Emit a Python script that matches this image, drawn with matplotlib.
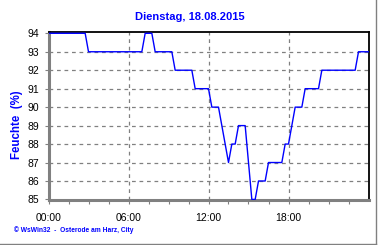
import numpy as np
import matplotlib.pyplot as plt

#----データ (15分間隔, 00:00 - 24:00)----#
humidity = [94]*12 + [93]*17 + [94]*3 + [93]*6 + [92]*6 + [91]*5 + [90]*3 \
    + [89, 88, 87] + [88]*2 + [89]*3 + [87] + [85]*2 + [86]*3 + [87]*5 \
    + [88]*2 + [89] + [90]*3 + [91]*5 + [92]*11 + [93]*4
hours = np.arange(len(humidity)) * 0.25

title = 'Dienstag, 18.08.2015'
ylabel = 'Feuchte  (%)'
footer = '\u00a9 WsWin32  -  Osterode am Harz, City'
xtick_pos = [0, 6, 12, 18]
xtick_labels = ['00:00', '06:00', '12:00', '18:00']
ytick_pos = list(range(85, 95))

blue = '#0000ff'
gray = '#808080'
plt.rcParams['font.family'] = ['Liberation Sans', 'DejaVu Sans']

#----グラフ----#
fig = plt.figure(figsize=(3.8, 2.45), dpi=100)
ax = fig.add_axes([48.5/380, 1-200/245, 320/380, 168/245])

ax.plot(hours, humidity, color=blue, linewidth=1.0, zorder=3)
ax.set_xlim(0, 24)
ax.set_ylim(84.97, 94.07)   # 上下の線が枠に隠れないように少し広げる

ax.set_xticks(xtick_pos)
ax.set_xticklabels(xtick_labels)
ax.set_xticks(np.arange(0, 24, 1.5), minor=True)
ax.set_yticks(ytick_pos)

for h in xtick_pos[1:]:
    ax.axvline(h, color=gray, linestyle=(0, (3, 3)), linewidth=0.9, zorder=1)
for v in ytick_pos[1:-1]:
    ax.axhline(v, color=gray, linestyle=(0, (3, 3)), linewidth=0.9, zorder=1)

ax.spines['left'].set_color(gray)
ax.spines['left'].set_linewidth(2.2)
ax.spines['bottom'].set_color(gray)
ax.spines['bottom'].set_linewidth(2.2)
ax.spines['top'].set_color('black')
ax.spines['top'].set_linewidth(1.3)
ax.spines['right'].set_color('black')
ax.spines['right'].set_linewidth(1.3)

ax.tick_params(axis='both', which='both', color=gray, labelsize=7.5, labelcolor='black')
ax.tick_params(axis='x', which='both', length=3, width=0.8, pad=6)
ax.tick_params(axis='y', which='major', length=3, width=0.8, pad=4)

fig.text(0.5, 1-17/245, title, color=blue, fontsize=8, fontweight='bold',
         ha='center', va='center')
fig.text(17/380, 1-125/245, ylabel, color=blue, fontsize=8.3, fontweight='bold',
         ha='center', va='center', rotation=90)
fig.text(14.5/380, 1-230.5/245, footer, color=blue, fontsize=4.8, fontweight='bold',
         ha='left', va='center')

# 外枠 (右と下)
fig.add_artist(plt.Line2D([375.5/380, 375.5/380], [0, 1], color=gray, linewidth=1.0,
                          transform=fig.transFigure))
fig.add_artist(plt.Line2D([0, 376/380], [0.6/245, 0.6/245], color=gray, linewidth=1.0,
                          transform=fig.transFigure))

fig.savefig('out.png', dpi=100)
